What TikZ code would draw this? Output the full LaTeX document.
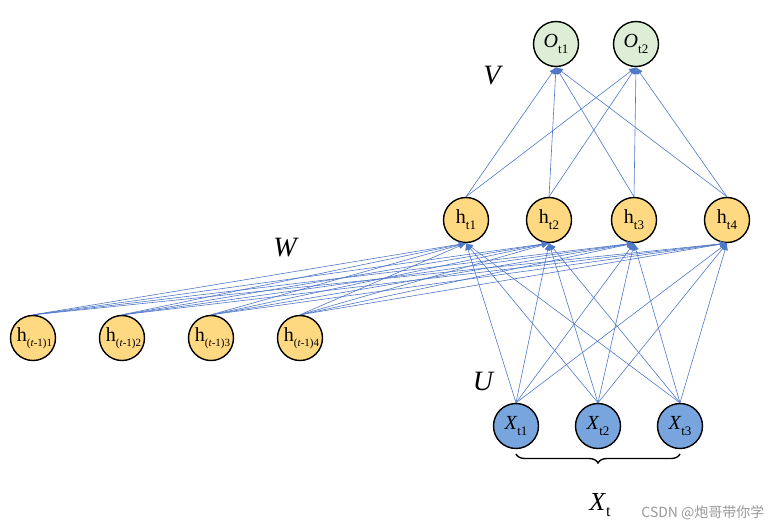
\documentclass[tikz,border=0pt]{standalone}
\usepackage{fontspec}
\setmainfont{Liberation Serif}
\newfontfamily\cjk{Noto Sans CJK SC}
\usetikzlibrary{arrows.meta,decorations.pathreplacing}
\definecolor{ln}{RGB}{80,120,200}
\definecolor{yel}{RGB}{255,217,130}
\definecolor{grn}{RGB}{222,238,214}
\definecolor{blu}{RGB}{120,165,222}
\newcommand{\sbx}[1]{\raisebox{-0.3em}{\fontsize{13}{13}\selectfont #1}}
\newcommand{\sbp}[1]{\raisebox{-0.25em}{\fontsize{11}{11}\selectfont #1}}
\begin{document}
\begin{tikzpicture}[x=1pt,y=-1pt,
  nd/.style={circle,draw=black,line width=1.4pt,minimum size=45pt,inner sep=0pt,font=\fontsize{20}{20}\selectfont},
  hn/.style={nd,fill=yel},
  on/.style={nd,fill=grn},
  xn/.style={nd,fill=blu},
  ed/.style={draw=ln,line width=0.6pt,-{Latex[length=7pt,width=6pt]}}]
\useasboundingbox (0,0) rectangle (779,531);
\node[on] (o1) at (556,44) {\textit{O}\sbx{t1}};
\node[on] (o2) at (636,44) {\textit{O}\sbx{t2}};
\foreach \i/\x in {1/466,2/549,3/634,4/727}{
  \node[hn] (h\i) at (\x,220) {h\sbx{t\i}};
  \node[hn] (p\i) at ({33+89*(\i-1)},338) {\hspace*{3pt}h\sbp{(\textit{t}-1)\i}};
}
\foreach \i/\x in {1/516,2/598,3/680}{
  \node[xn] (x\i) at (\x,426) {\textit{X}\sbx{t\i}};
}
\foreach \i in {1,...,4}{
  \foreach \j in {1,2}{ \draw[ed] (h\i.north) -- (o\j.south); }
  \foreach \j in {1,2,3}{ \draw[ed] (x\j.north) -- (h\i.south); }
  \foreach \j in {1,...,4}{ \draw[ed] (p\j.north) -- (h\i.south); }
}
\node[font=\fontsize{28}{28}\selectfont\itshape] (lv) at (492,76) {V};
\node[font=\fontsize{28}{28}\selectfont\itshape] (lw) at (285,248) {W};
\node[font=\fontsize{28}{28}\selectfont\itshape] (lu) at (483,381) {U};
\draw[decorate,decoration={brace,mirror,amplitude=9pt},line width=1.4pt] (516,454) -- (680,454);
\node[font=\fontsize{26}{26}\selectfont] (lx) at (600,505) {\textit{X}\raisebox{-0.25em}{\fontsize{16}{16}\selectfont t}};
\node[font=\cjk\fontsize{14}{14}\selectfont,text=gray!80,anchor=east] (wm) at (768,513) {CSDN @炮哥带你学};
\end{tikzpicture}
\end{document}
